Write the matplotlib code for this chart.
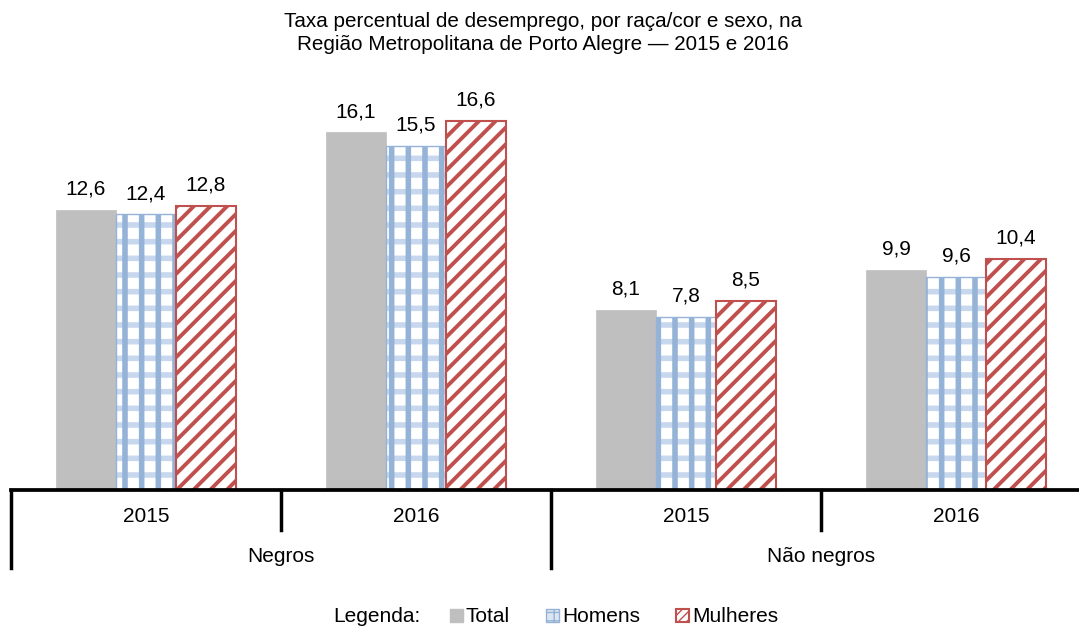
import matplotlib
matplotlib.use("Agg")
import matplotlib.pyplot as plt
from matplotlib.patches import Patch
import matplotlib.transforms as mtransforms
import numpy as np

plt.rcParams['font.family'] = ['Liberation Sans', 'DejaVu Sans']

title = "Taxa percentual de desemprego, por raça/cor e sexo, na\nRegião Metropolitana de Porto Alegre — 2015 e 2016"
years = ["2015", "2016", "2015", "2016"]
groups = ["Negros", "Não negros"]
series = ["Total", "Homens", "Mulheres"]
total = [12.6, 16.1, 8.1, 9.9]
homens = [12.4, 15.5, 7.8, 9.6]
mulheres = [12.8, 16.6, 8.5, 10.4]

FS = 15
W, H = 1079, 629
fig = plt.figure(figsize=(W / 100, H / 100), dpi=100)
ax = fig.add_axes([11 / W, (H - 490) / H, 1080 / W, 400 / H])
ax.set_xlim(-0.5, 3.5)
ax.set_ylim(0, 18)

x = np.arange(len(years))
bw = 0.222
b1 = ax.bar(x - bw, total, bw, color='#BFBFBF', edgecolor='#BFBFBF', linewidth=0.5)
b2 = ax.bar(x, homens, bw, color='white', edgecolor='#C6D7EE', hatch='-', linewidth=0)
b2b = ax.bar(x, homens, bw, color='none', edgecolor='#95B3D7', hatch='|', linewidth=1.0)
b3 = ax.bar(x + bw, mulheres, bw, color='white', edgecolor='#C0504D', hatch='//', linewidth=1.5)
for bars, hl in ((b2, 4.0), (b2b, 4.0), (b3, 2.8)):
    for p in bars:
        if hasattr(p, 'set_hatch_linewidth'):
            p.set_hatch_linewidth(hl)

for bars, vals in ((b1, total), (b2, homens), (b3, mulheres)):
    for p, v in zip(bars, vals):
        ax.annotate(f"{v:.1f}".replace('.', ','),
                    (p.get_x() + p.get_width() / 2, p.get_height()),
                    xytext=(0, 8), textcoords='offset points',
                    ha='center', va='bottom', fontsize=FS)

for s in ['top', 'right', 'left']:
    ax.spines[s].set_visible(False)
ax.spines['bottom'].set_linewidth(2.7)
ax.set_yticks([])
ax.set_xticks([])

trans = mtransforms.blended_transform_factory(ax.transData, ax.transAxes)
for b in [0.5, 2.5]:
    ax.plot([b, b], [0, -40 / 400], color='black', lw=2.5, transform=trans, clip_on=False)
for b in [-0.5, 1.5, 3.5]:
    ax.plot([b, b], [0, -78 / 400], color='black', lw=2.5, transform=trans, clip_on=False)
for xi, yr in zip(x, years):
    ax.text(xi, -26 / 400, yr, transform=trans, ha='center', va='center', fontsize=FS)
for gi, g in enumerate(groups):
    ax.text(0.5 + 2 * gi, -66 / 400, g, transform=trans, ha='center', va='center', fontsize=FS)

fig.text(543 / W, 1 - 33 / H, title, ha='center', va='center', fontsize=14.9, linespacing=1.3)

LY = 12 / H
fig.text(377 / W, LY, "Legenda:", ha='center', va='center', fontsize=FS)
handles = [
    Patch(facecolor='#BFBFBF', edgecolor='#BFBFBF'),
    Patch(facecolor='#DCE6F2', edgecolor='#95B3D7', hatch='++'),
    Patch(facecolor='white', edgecolor='#C0504D', hatch='////', linewidth=1.5),
]
fig.legend(handles, series, ncol=3, loc='center left', bbox_to_anchor=(450 / W, LY),
           frameon=False, fontsize=FS, handlelength=0.6, handleheight=0.6,
           handletextpad=0.15, columnspacing=1.75, borderaxespad=0, borderpad=0)

fig.savefig("out.png", dpi=100)
